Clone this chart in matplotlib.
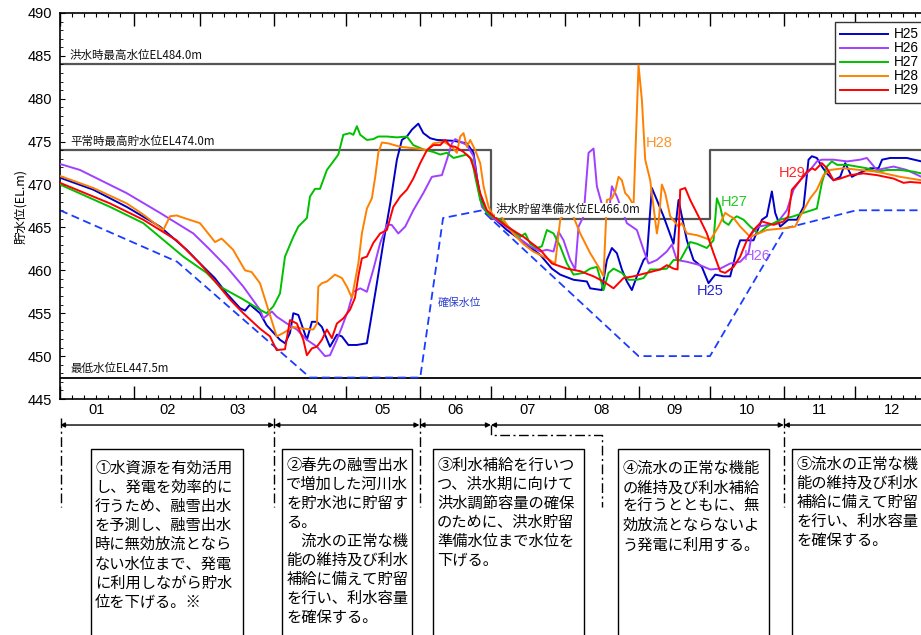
import matplotlib
matplotlib.use("Agg")
import matplotlib.pyplot as plt
from matplotlib.patches import Rectangle
from matplotlib.font_manager import FontProperties

plt.rcParams['font.family'] = ['Noto Sans CJK JP', 'DejaVu Sans']
NUM_FONT = ['Liberation Sans Narrow', 'Liberation Sans', 'DejaVu Sans']

# ================= DATA (day of year from Jan 1, level in EL.m) =================
month_labels = ['01', '02', '03', '04', '05', '06', '07', '08', '09', '10', '11', '12']
month_start = [0, 31, 59, 90, 120, 151, 181, 212, 243, 273, 304, 334, 365]

h25 = [(0, 470.8), (14, 469.4), (28, 467.4), (42, 465.1), (53.2, 462.4), (58.8, 460.8), (65, 459.1),
       (70, 457.3), (75.6, 455.6), (77.7, 455.3), (79.8, 456.0), (84, 455.0), (86.8, 453.6), (92.4, 451.9),
       (94.5, 451.5), (96.6, 452.7), (98, 455.0), (100.1, 454.8), (103.7, 451.9), (105.8, 454.0),
       (107.9, 454.0), (110, 453.4), (113.4, 451.1), (116.3, 452.5), (118.4, 452.3), (121.1, 451.3),
       (124.7, 451.3), (128.9, 451.5), (130.3, 453.8), (133.1, 458.5), (135.8, 463.2), (138.7, 467.8),
       (141.5, 472.9), (143.6, 475.2), (145.7, 475.6), (147.8, 476.4), (150.5, 477.1), (152.6, 476.0),
       (155.5, 475.4), (158.3, 475.2), (165.3, 475.1), (170.9, 474.8), (173.7, 473.7), (175.1, 470.9),
       (176.5, 468.6), (179.3, 466.7), (181.4, 466.3), (187.7, 464.7), (194.7, 463.3), (201.7, 461.8),
       (206.6, 460.2), (210.1, 459.5), (215.7, 458.9), (221.3, 458.7), (222.7, 457.9), (227.6, 457.7),
       (229.7, 461.2), (231.8, 462.6), (233.9, 462.0), (236, 460.1), (238.1, 458.7), (240.2, 457.7),
       (242.3, 459.3), (245.1, 461.2), (246.5, 461.6), (248.6, 469.6), (250.7, 468.2), (253.5, 466.3),
       (257.7, 463.1), (259.8, 468.2), (261.2, 466.3), (263.3, 463.5), (266.1, 461.2), (269.6, 460.4),
       (272.4, 458.5), (275.2, 459.5), (278.7, 459.3), (281.5, 459.3), (284.3, 462.4), (285.7, 463.5),
       (291.3, 463.5), (294.8, 465.9), (296.9, 466.3), (299, 469.2), (300.4, 466.7), (302.5, 465.1),
       (305.9, 465.9), (309.5, 465.9), (312.3, 467.4), (314.4, 472.9), (315.8, 473.3), (317.9, 473.1),
       (320, 472.1), (322.1, 471.3), (324.9, 470.5), (327.7, 470.9), (329.8, 472.5), (332.6, 470.9),
       (335.4, 471.3), (340.3, 471.9), (343.8, 471.9), (345.3, 472.9), (348.7, 473.1), (355.7, 473.1),
       (361.8, 472.7), (365, 472.6)]

h26 = [(0, 472.4), (8.4, 471.7), (28, 469.0), (42, 466.7), (56, 464.3), (63, 462.4), (70, 460.4),
       (77, 458.1), (84, 455.4), (85.4, 454.4), (89, 455.2), (91, 454.6), (95.3, 453.8), (99.5, 453.1),
       (103.7, 451.9), (107.9, 451.1), (111.3, 450.0), (113.4, 450.1), (116.3, 451.9), (118.4, 453.4),
       (121.1, 455.4), (123.2, 457.5), (126.1, 457.9), (128.9, 457.5), (131.6, 460.1), (134.5, 463.2),
       (137.3, 465.3), (139.3, 465.3), (142.1, 464.3), (145, 465.1), (148.4, 467.0), (152.6, 469.0),
       (156.2, 470.9), (160.4, 471.1), (162.5, 472.9), (164.6, 474.8), (166, 475.3), (168.1, 475.0),
       (170.9, 474.6), (173.7, 473.3), (175.8, 469.4), (177.2, 467.4), (180.7, 466.3), (187.7, 465.1),
       (191.9, 463.9), (197.5, 462.8), (201.7, 462.2), (204.5, 462.4), (207.3, 462.2), (209.4, 464.5),
       (211.5, 463.5), (214.3, 461.2), (216.4, 460.1), (217.8, 465.1), (219.9, 466.3), (222, 473.7),
       (224.1, 474.2), (225.5, 469.8), (228.3, 467.0), (230.4, 466.3), (231.8, 469.8), (233.9, 468.6),
       (238.1, 465.5), (242.3, 464.7), (245.1, 462.4), (247.2, 460.8), (250.7, 461.2), (254.9, 462.2),
       (257, 463.0), (259.1, 461.2), (263.3, 461.0), (268.9, 460.6), (273.1, 460.1), (277.3, 460.2),
       (281.5, 460.8), (285.7, 461.0), (289.2, 462.0), (290.6, 464.3), (293.4, 465.1), (301.1, 465.5),
       (305.3, 467.0), (308.1, 469.4), (310.9, 470.5), (315.1, 471.7), (317.9, 472.7), (320, 472.9),
       (324.9, 472.9), (330.6, 472.7), (336.1, 472.9), (338.9, 473.1), (343.1, 471.7), (350.1, 472.1),
       (355.7, 471.7), (361.8, 470.9), (365, 470.8)]

h27 = [(0, 470.0), (21, 467.4), (35, 465.5), (51.8, 461.6), (61.6, 459.7), (67.2, 458.1), (77, 456.6),
       (84, 455.4), (86.8, 455.0), (89.6, 455.8), (92.4, 457.3), (94.5, 461.6), (98, 463.9), (100.1, 465.1),
       (103.7, 466.1), (105, 468.6), (107.1, 469.5), (109.2, 469.5), (112.1, 471.7), (114.8, 472.7),
       (116.9, 473.5), (119, 475.8), (121.8, 476.0), (123.2, 475.8), (124.7, 476.8), (126.1, 475.8),
       (128.9, 475.2), (131.6, 475.3), (133.7, 475.6), (137.3, 475.6), (141.5, 475.5), (145.7, 475.6),
       (148.4, 474.6), (152.6, 474.1), (156.8, 473.8), (159.7, 473.5), (162.5, 473.7), (165.3, 473.1),
       (168.1, 473.3), (170.9, 473.5), (173, 472.9), (174.4, 470.9), (176.5, 468.2), (179.3, 466.7),
       (181.4, 466.3), (184.9, 465.9), (189.1, 464.9), (193.3, 463.9), (195.4, 464.3), (197.5, 463.1),
       (200.3, 462.6), (202.4, 462.8), (204.5, 464.7), (207.3, 464.3), (210.1, 462.8), (212.9, 460.8),
       (215.7, 459.5), (219.9, 459.7), (222.7, 460.2), (225.5, 460.4), (228.3, 457.7), (230.4, 459.7),
       (232.5, 460.2), (236, 459.7), (238.8, 458.9), (242.3, 458.9), (245.1, 459.1), (247.9, 460.1),
       (251.4, 460.1), (254.9, 460.2), (257.7, 461.2), (260.5, 461.2), (264.7, 463.3), (267.5, 463.1),
       (271.7, 462.6), (274.5, 463.5), (275.9, 468.4), (277.3, 467.4), (278.7, 465.7), (280.8, 465.3),
       (282.2, 465.9), (284.3, 466.3), (287.1, 465.9), (289.9, 465.1), (293.4, 464.3), (296.9, 465.1),
       (302.5, 465.9), (308.1, 466.3), (312.3, 466.7), (317.9, 467.2), (320, 470.2), (322.1, 472.1),
       (324.2, 472.7), (326.4, 472.3), (330.6, 472.3), (334.7, 472.1), (338.9, 471.9), (343.1, 471.5),
       (347.4, 471.7), (352.9, 471.7), (358.5, 471.5), (361.8, 471.3), (365, 471.3)]

h28 = [(0, 471.0), (14, 469.6), (28, 467.8), (35, 466.5), (43.4, 464.7), (46.2, 466.3), (49, 466.4),
       (53.2, 466.0), (58.8, 465.5), (65.1, 463.3), (67.9, 463.7), (72.7, 462.4), (77.7, 460.0),
       (80.5, 459.8), (84, 458.5), (87.5, 455.4), (91, 452.3), (93.8, 452.7), (98, 453.4), (102.2, 453.2),
       (106.4, 453.1), (107.9, 453.8), (108.5, 458.1), (110, 458.5), (112.1, 458.7), (115.5, 459.5),
       (118.4, 459.1), (120.5, 458.1), (122.6, 456.8), (125.3, 460.8), (126.8, 464.3), (128.9, 467.2),
       (131, 468.4), (132.4, 470.9), (133.7, 473.7), (135.2, 474.9), (137.9, 474.8), (142.9, 474.4),
       (149.9, 474.2), (154.1, 474.0), (156.8, 474.8), (161.1, 475.0), (164.6, 474.4), (166.7, 473.7),
       (168.1, 475.6), (169.5, 476.0), (170.9, 474.4), (172.3, 475.2), (174.4, 474.0), (176.5, 472.5),
       (177.9, 469.8), (180, 467.4), (182.1, 466.3), (184, 466.8), (190.3, 464.3), (194.5, 463.1),
       (198.7, 462.2), (204.5, 461.4), (208, 460.8), (210.1, 465.9), (212.2, 466.8), (215, 466.7),
       (218.5, 464.3), (222.7, 462.0), (226.2, 460.4), (228.3, 459.3), (229.7, 468.2), (231.8, 468.4),
       (233.2, 469.2), (234.6, 470.9), (236, 470.5), (237.4, 469.0), (238.8, 468.6), (240.9, 467.6),
       (243, 483.9), (244.4, 479.9), (245.8, 472.9), (247.9, 470.5), (250.7, 464.3), (251.4, 465.5),
       (252.8, 470.0), (254.2, 469.0), (256.3, 466.3), (259.8, 465.1), (261.2, 465.5), (263.3, 464.3),
       (267.5, 464.1), (271.7, 463.7), (273.1, 463.5), (276.6, 465.1), (279.4, 466.7), (281.5, 466.3),
       (282.9, 466.1), (285.7, 465.1), (289.9, 463.9), (296.9, 464.7), (303.9, 464.9), (308.8, 465.1),
       (310.9, 466.3), (315.1, 468.4), (317.9, 469.4), (320.7, 471.1), (323.5, 471.7), (329.1, 471.9),
       (336.1, 471.7), (343.1, 471.5), (352.9, 470.9), (361.8, 470.5), (365, 470.4)]

h29 = [(0, 470.2), (21, 467.8), (35, 465.9), (49, 463.5), (58.8, 460.8), (65.8, 458.5), (71.4, 456.6),
       (77, 455.0), (84, 453.2), (88.2, 452.3), (91, 450.7), (94.5, 450.8), (96.6, 454.2), (99.5, 453.8),
       (102.2, 451.9), (103.7, 450.1), (105.8, 450.9), (107.9, 451.1), (110, 451.9), (112.1, 453.1),
       (114.2, 452.1), (116.3, 453.8), (119, 454.4), (121.8, 455.4), (123.9, 456.8), (125.3, 459.3),
       (126.8, 461.4), (128.9, 461.6), (131.6, 463.2), (134.5, 464.3), (137.3, 464.7), (140, 467.4),
       (142.9, 468.6), (145.7, 469.4), (148.4, 470.7), (151.3, 472.5), (154.1, 474.0), (156.8, 474.6),
       (159.7, 474.6), (161.8, 475.2), (163.9, 474.5), (166, 474.4), (169.5, 473.8), (172.3, 473.1),
       (174.4, 471.5), (176.5, 469.0), (179.3, 467.0), (182.1, 466.3), (187.7, 465.1), (194.7, 463.9),
       (201.7, 462.4), (206.6, 460.8), (212.9, 460.2), (218.5, 459.9), (224.1, 459.3), (228.3, 458.7),
       (232.5, 457.9), (236.7, 459.1), (240.9, 459.3), (246.5, 459.7), (252.1, 460.1), (254.9, 460.6),
       (257.7, 460.2), (259.4, 460.1), (260.5, 469.4), (262.6, 469.6), (264.7, 468.2), (268.9, 465.9),
       (271.7, 464.3), (274.5, 462.0), (277.3, 459.9), (279.4, 459.7), (282.9, 460.4), (285.7, 461.6),
       (288.5, 463.5), (291.3, 464.7), (294.8, 465.7), (299.7, 465.3), (303.9, 465.7), (305.9, 466.3),
       (307.4, 469.4), (310.9, 470.5), (313.7, 471.5), (315.8, 471.9), (317.2, 471.7), (320, 472.5),
       (322.1, 471.9), (324.9, 470.5), (327.7, 470.7), (331.9, 471.1), (337.5, 471.3), (343.1, 471.1),
       (350.1, 470.7), (354.3, 470.2), (357.1, 470.3), (361.8, 470.2), (365, 470.1)]

# 確保水位 (dashed)
keep_lvl = [(0, 467.0), (49.2, 461.0), (105, 447.5), (151.3, 447.5), (160.9, 466.1), (177.3, 467.0),
            (181, 466.0), (243, 450.0), (273, 450.0), (304.6, 464.9), (334.5, 467.0), (365, 467.0)]

# reference levels
flood_max = 484.0
min_level = 447.5
rule_day = [0, 181, 181, 273, 273, 365]
rule_lvl = [474.0, 474.0, 466.0, 466.0, 474.0, 474.0]

series = [('H25', h25, '#0000c8'), ('H26', h26, '#a040ff'), ('H27', h27, '#00c000'),
          ('H28', h28, '#ff8000'), ('H29', h29, '#ff0000')]
series_tag = {'H28': (251.7, 474.85), 'H27': (283.2, 468.0), 'H29': (307.6, 471.35),
              'H26': (292.9, 461.7), 'H25': (273.1, 457.6)}

# ================= PLOT =================
fig = plt.figure(figsize=(9.21, 6.35), dpi=100)
ax = fig.add_axes([60 / 921, 1 - 399 / 635, 869 / 921, 386 / 635])
ax.set_xlim(0, 365)
ax.set_ylim(445, 490)

# reference lines
ax.axhline(flood_max, color='#555555', lw=1.6, zorder=1)
ax.plot(rule_day, rule_lvl, color='#555555', lw=1.6, zorder=1)
ax.axhline(min_level, color='black', lw=1.3, zorder=1)

txt_kw = dict(fontsize=8.3, va='bottom', ha='left', color='#111111')
ax.text(4.2, flood_max + 0.25, '洪水時最高水位EL484.0m', **txt_kw)
ax.text(4.2, 474.25, '平常時最高貯水位EL474.0m', **txt_kw)
ax.text(4.2, min_level + 0.25, '最低水位EL447.5m', **txt_kw)
ax.text(182.8, 466.3, '洪水貯留準備水位EL466.0m', zorder=6,
        bbox=dict(facecolor='white', edgecolor='none', pad=0.5), **txt_kw)

kd, kv = zip(*keep_lvl)
ax.plot(kd, kv, color='#1a3cff', lw=1.3, dashes=(4.5, 2.5), zorder=2)
ax.text(158.8, 456.2, '確保水位', fontsize=7.8, color='#2a3fd0', ha='left', va='center')

for name, pts, col in series:
    d, v = zip(*pts)
    ax.plot(d, v, color=col, lw=1.4, label=name, zorder=3)
    tx, ty = series_tag[name]
    ax.text(tx, ty, name, color=col, fontsize=10.5, family=NUM_FONT,
            ha='center', va='center', zorder=5, alpha=0.85)

# ticks
ax.set_xticks(month_start[:-1])
minor = [m + k for m, n in zip(month_start[:-1], month_start[1:]) for k in (5, 10, 15, 20, 25) if m + k < n]
ax.set_xticks(minor, minor=True)
ax.set_xticklabels([])
ax.set_yticks(range(445, 491, 5))
ax.set_yticks(range(445, 491, 1), minor=True)
ax.tick_params(axis='x', which='both', direction='in', top=True, bottom=True, labelbottom=False)
ax.tick_params(axis='x', which='major', length=9.5, width=1)
ax.tick_params(axis='x', which='minor', length=3, width=0.8)
ax.tick_params(axis='y', which='major', direction='in', length=3.5, width=0.8, labelsize=10.5, pad=6)
ax.tick_params(axis='y', which='minor', direction='in', length=2, width=0.6)
for lab in ax.get_yticklabels():
    lab.set_fontfamily(NUM_FONT)
for s in ax.spines.values():
    s.set_linewidth(1.2)

ax.set_ylabel('貯水位(EL.m)', fontsize=9)
ax.yaxis.set_label_coords(-0.038, 0.5)

xt = ax.get_xaxis_transform()
for i, lab in enumerate(month_labels):
    ax.text((month_start[i] + month_start[i + 1]) / 2, -0.028, lab, transform=xt, ha='center',
            va='center', fontsize=10.5, family=NUM_FONT, clip_on=False)

# legend
ax.legend(loc='upper left', bbox_to_anchor=(835 / 921, 1 - 22 / 635), bbox_transform=fig.transFigure,
          fancybox=False, edgecolor='#333333', framealpha=1, borderaxespad=0, handlelength=3.5,
          handletextpad=0.4, labelspacing=0.0, borderpad=0.4,
          prop=FontProperties(family=NUM_FONT, size=9.8))

# ================= PHASE ANNOTATIONS BELOW THE CHART =================
arrow_y = -0.0674
phases = [(0, 90), (90, 151), (151, 181), (181, 304), (304, 372)]
for a, b in phases:
    ax.annotate('', xy=(b, arrow_y), xytext=(a, arrow_y), xycoords=xt, textcoords=xt,
                arrowprops=dict(arrowstyle='<|-|>', color='black', lw=1, mutation_scale=7,
                                shrinkA=0, shrinkB=0), annotation_clip=False)

dashdot = (0, (7, 2.5, 1.5, 2.5))
for d in (0.4, 90, 151, 304):
    ax.plot([d, d], [-0.049, -0.28], transform=xt, color='black', lw=1, ls=dashdot, clip_on=False)
ax.plot([181, 181, 227.7, 227.7], [arrow_y, -0.0933, -0.0933, -0.28], transform=xt,
        color='black', lw=1, ls=dashdot, clip_on=False)

box_span = [(13.0, 76.9), (93.3, 147.9), (156.7, 220.2), (234.5, 297.9), (307.6, 372)]
box_text_top = [-0.158, -0.149, -0.149, -0.158, -0.147]
box_text = [
    "①水資源を有効活用\nし、発電を効率的に\n行うため、融雪出水\nを予測し、融雪出水\n時に無効放流となら\nない水位まで、発電\nに利用しながら貯水\n位を下げる。※",
    "②春先の融雪出水\nで増加した河川水\nを貯水池に貯留す\nる。\n　流水の正常な機\n能の維持及び利水\n補給に備えて貯留\nを行い、利水容量\nを確保する。",
    "③利水補給を行いつ\nつ、洪水期に向けて\n洪水調節容量の確保\nのために、洪水貯留\n準備水位まで水位を\n下げる。",
    "④流水の正常な機能\nの維持及び利水補給\nを行うとともに、無\n効放流とならないよ\nう発電に利用する。",
    "⑤流水の正常な機\n能の維持及び利水\n補給に備えて貯留\nを行い、利水容量\nを確保する。",
]
box_top = -0.1295
for (a, b), ty, t in zip(box_span, box_text_top, box_text):
    ax.add_patch(Rectangle((a, -0.64), b - a, 0.64 + box_top, transform=xt, fill=False,
                           edgecolor='black', lw=1, clip_on=False))
    ax.text(a + 1.7, ty, t, transform=xt, ha='left', va='top', fontsize=11,
            linespacing=1.16, clip_on=False)

fig.savefig('out.png', dpi=100)
